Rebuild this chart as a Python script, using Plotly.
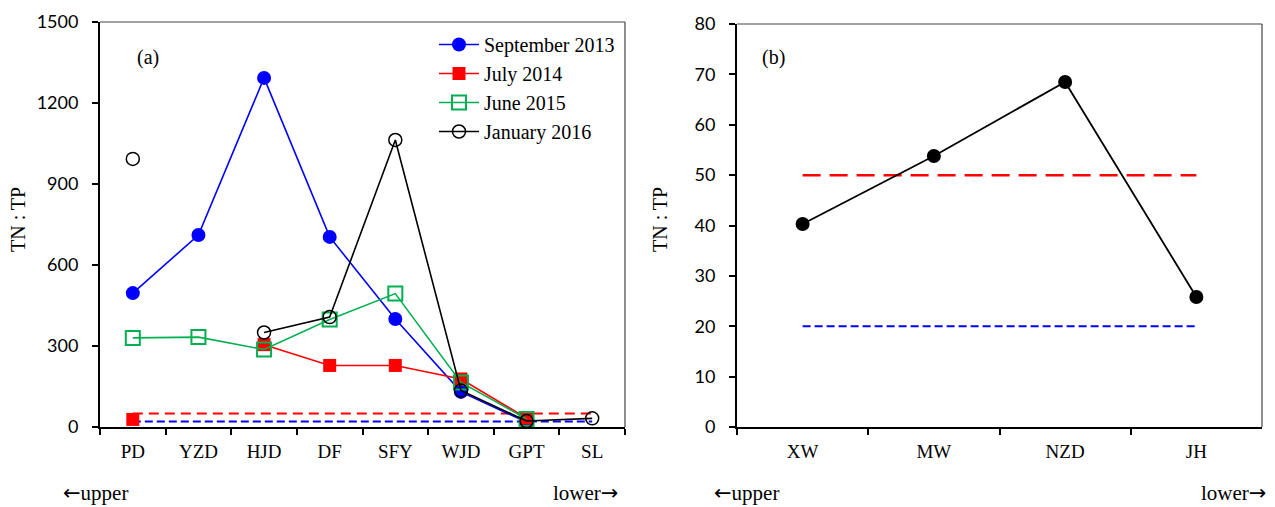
import plotly.graph_objects as go

# ---------------- data ----------------
sites_a = ["PD", "YZD", "HJD", "DF", "SFY", "WJD", "GPT", "SL"]
sep_2013 = [496, 711, 1293, 704, 400, 130, 18, None]
jul_2014 = [28, None, 305, 228, 228, 178, 33, None]
jun_2015 = [330, 333, 287, 398, 494, 165, 30, None]
jan_2016 = [993, None, 350, 407, 1063, 135, 22, 32]

sites_b = ["XW", "MW", "NZD", "JH"]
ratio_b = [40.3, 53.8, 68.5, 25.8]

threshold_high = 50
threshold_low = 20

SERIF = "Liberation Serif"
SANS = "Lato"

# page body has an 8px margin: work in window pixels and convert
OFF = 8
W, H = 1275 - OFF, 507 - OFF


def px(xp):
    return (xp - OFF) / W


def py(yp):
    return 1 - (yp - OFF) / H


fig = go.Figure()

# threshold lines panel a
fig.add_trace(go.Scatter(x=[sites_a[0], sites_a[-1]], y=[threshold_high, threshold_high],
                         mode="lines", line=dict(color="#ff0000", width=2, dash="10px,6px"),
                         showlegend=False, hoverinfo="skip", xaxis="x", yaxis="y"))
fig.add_trace(go.Scatter(x=[sites_a[0], sites_a[-1]], y=[threshold_low, threshold_low],
                         mode="lines", line=dict(color="#0000ff", width=2, dash="8px,4px"),
                         showlegend=False, hoverinfo="skip", xaxis="x", yaxis="y"))

series = [
    ("September 2013", sep_2013, "#0000ff", dict(symbol="circle", size=14, color="#0000ff")),
    ("July 2014", jul_2014, "#ff0000", dict(symbol="square", size=13, color="#ff0000")),
    ("June 2015", jun_2015, "#00b050", dict(symbol="square-open", size=14, color="#00b050",
                                          line=dict(width=2, color="#00b050"))),
    ("January 2016", jan_2016, "#000000", dict(symbol="circle-open", size=13, color="#000000",
                                             line=dict(width=1.5, color="#000000"))),
]
for name, vals, col, mk in series:
    fig.add_trace(go.Scatter(x=sites_a, y=vals, name=name, mode="lines+markers",
                             line=dict(color=col, width=1.6), marker=mk,
                             connectgaps=False, xaxis="x", yaxis="y"))

# panel b
fig.add_trace(go.Scatter(x=[sites_b[0], sites_b[-1]], y=[threshold_high, threshold_high],
                         mode="lines", line=dict(color="#ff0000", width=2.5, dash="18px,9px"),
                         showlegend=False, hoverinfo="skip", xaxis="x2", yaxis="y2"))
fig.add_trace(go.Scatter(x=[sites_b[0], sites_b[-1]], y=[threshold_low, threshold_low],
                         mode="lines", line=dict(color="#0000ff", width=2, dash="8px,4px"),
                         showlegend=False, hoverinfo="skip", xaxis="x2", yaxis="y2"))
fig.add_trace(go.Scatter(x=sites_b, y=ratio_b, mode="lines+markers",
                         line=dict(color="#000000", width=1.8),
                         marker=dict(symbol="circle", size=14, color="#000000"),
                         showlegend=False, xaxis="x2", yaxis="y2"))

ax_common = dict(showline=True, linecolor="black", linewidth=2, ticks="outside",
                 tickcolor="black", tickwidth=1.5, ticklen=6, showgrid=False, zeroline=False)

fig.update_layout(
    width=W, height=H,
    margin=dict(l=0, r=0, t=0, b=0),
    plot_bgcolor="white", paper_bgcolor="white",
    xaxis=dict(domain=[px(100), px(625)], type="category", tickson="boundaries",
               categoryorder="array", categoryarray=sites_a,
               range=[-0.5, 7.5], anchor="y", automargin=False,
               tickfont=dict(family=SERIF, size=19, color="black"), ticklabelstandoff=6,
               **ax_common),
    yaxis=dict(domain=[py(427), py(22)], range=[0, 1500], dtick=300, anchor="x",
               automargin=False, tickfont=dict(family=SANS, size=18, color="black"),
               ticklabelstandoff=10, **ax_common),
    xaxis2=dict(domain=[px(737), px(1262)], type="category", tickson="boundaries",
                categoryorder="array", categoryarray=sites_b,
                range=[-0.5, 3.5], anchor="y2", automargin=False,
                tickfont=dict(family=SERIF, size=19, color="black"), ticklabelstandoff=6,
                **ax_common),
    yaxis2=dict(domain=[py(427), py(24)], range=[0, 80], dtick=10, anchor="x2",
                automargin=False, tickfont=dict(family=SANS, size=18, color="black"),
                ticklabelstandoff=10, **ax_common),
    legend=dict(x=px(434), y=py(25), xanchor="left", yanchor="top",
                font=dict(family=SERIF, size=20, color="black"), bgcolor="rgba(0,0,0,0)",
                itemwidth=40, tracegroupgap=0),
    showlegend=True,
)

# thin frame on top/right
for xr, yr in [("x domain", "y domain"), ("x2 domain", "y2 domain")]:
    fig.add_shape(type="line", xref=xr, yref=yr, x0=0, x1=1, y0=1, y1=1,
                  line=dict(color="#444", width=1.2))
    fig.add_shape(type="line", xref=xr, yref=yr, x0=1, x1=1, y0=0, y1=1,
                  line=dict(color="#444", width=1.2))

ARROW = "<span style='font-family:DejaVu Sans'>{}</span>"
annots = [
    dict(text="(a)", x=148, y=58, size=20),
    dict(text="(b)", x=773, y=58, size=20),
    dict(text=ARROW.format("←") + "upper", x=95, y=493, size=21),
    dict(text="lower" + ARROW.format("→"), x=585, y=493, size=21),
    dict(text=ARROW.format("←") + "upper", x=746, y=493, size=21),
    dict(text="lower" + ARROW.format("→"), x=1233, y=493, size=21),
]
for a in annots:
    fig.add_annotation(text=a["text"], x=px(a["x"]), y=py(a["y"]), xref="paper", yref="paper",
                       showarrow=False, xanchor="center", yanchor="middle",
                       font=dict(family=SERIF, size=a["size"], color="black"))

for xpos in [18, 660]:
    fig.add_annotation(text="TN : TP", x=px(xpos), y=py(220), xref="paper", yref="paper",
                       showarrow=False, textangle=-90, xanchor="center", yanchor="middle",
                       font=dict(family=SERIF, size=20, color="black"))

fig.write_html("out.html")
